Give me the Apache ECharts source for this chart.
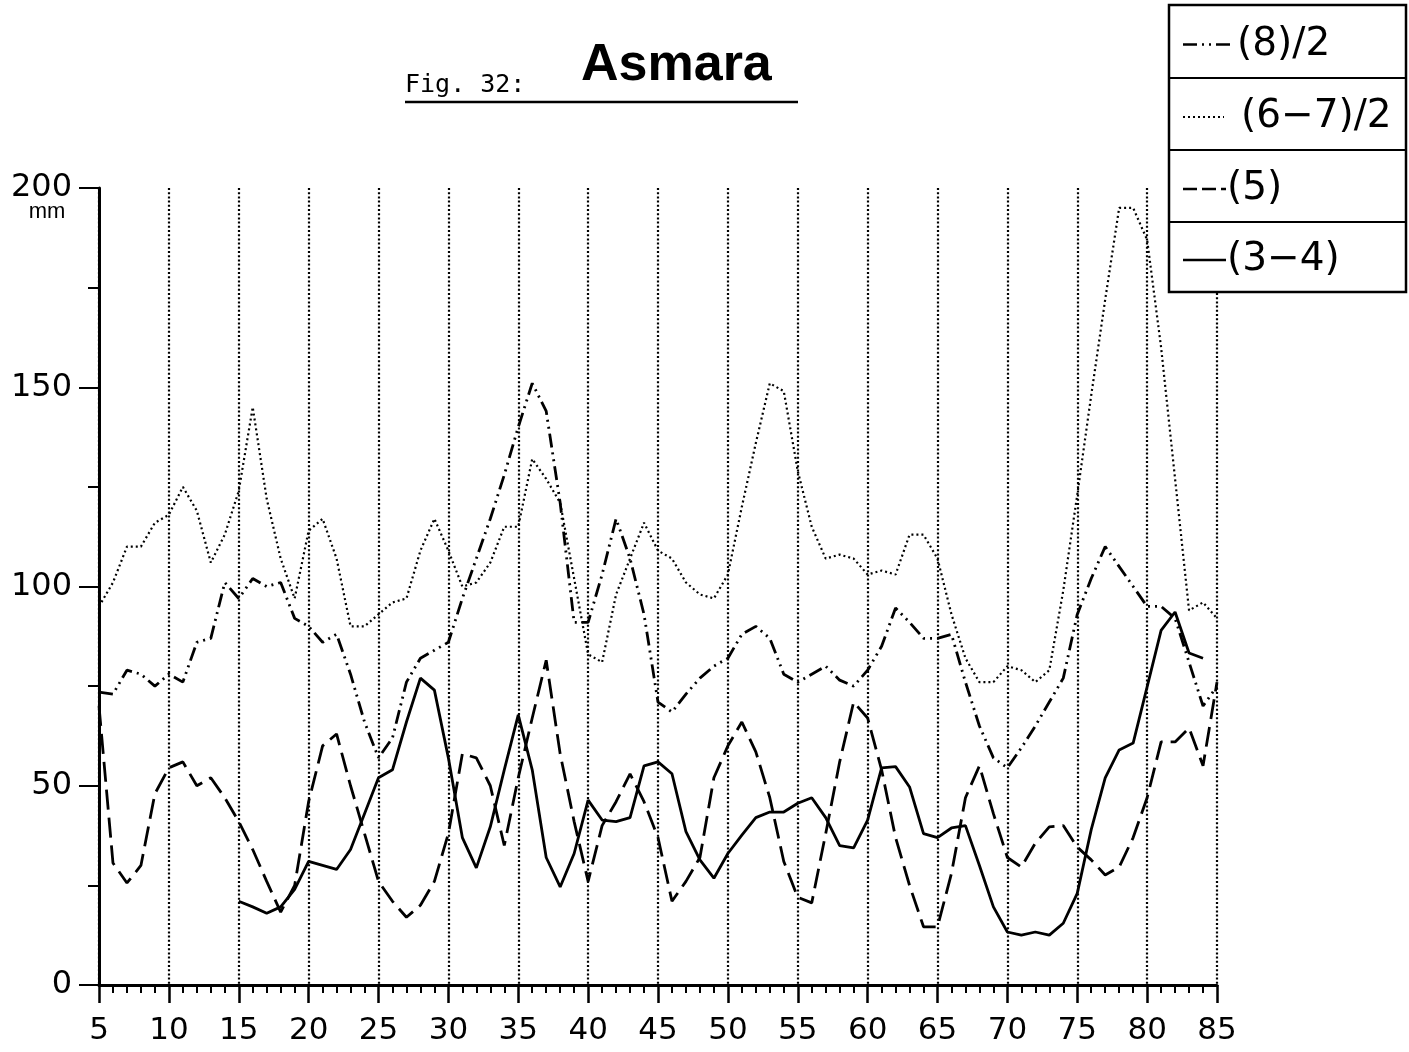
<!DOCTYPE html>
<html>
<head>
<meta charset="utf-8">
<title>Fig. 32: Asmara</title>
<script src="https://cdn.jsdelivr.net/npm/echarts@6/dist/echarts.min.js"></script>
<style>
  html, body { margin: 0; padding: 0; background: #fff; }
  #chart { width: 1409px; height: 1052px; }
</style>
</head>
<body>
<div id="chart"></div>
<script>
// Years 1905–1985 (shown as 5 … 85)
const years = [];
for (let y = 5; y <= 85; y++) years.push(y);

// (8)/2 — dash-dot-dot
const s8half = [
  73.5, 73, 79, 78, 75, 78, 76, 86, 87, 101,
  97, 102, 100, 101, 92, 90, 86, 88, 78, 66,
  57, 62, 76, 82, 84, 86, 97, 107, 117, 128,
  140, 151, 144, 121, 91, 91, 103, 117, 107, 93,
  71, 68.5, 73, 77, 80, 82, 88, 90, 87, 78,
  76, 78, 80, 76.5, 75, 79, 85, 94.6, 91, 87,
  87, 88, 76, 65, 57, 54.5, 59.5, 65, 71, 77,
  93, 102, 110, 105, 100, 95, 95, 92, 81, 70,
  75
];

// (6-7)/2 — dotted
const s67half = [
  95, 101, 110, 110, 116, 118, 125, 119, 106, 113,
  124, 145, 122, 107, 97, 114, 117, 107, 90, 90,
  93, 96, 97, 109, 117, 109, 100, 101, 106, 115,
  115, 132, 127, 121, 102, 83, 81, 98, 107, 116,
  109, 107, 101, 98, 97, 103, 120, 136, 151, 149,
  129, 115, 107, 108, 107, 103, 104, 103, 113, 113,
  107, 93, 82, 76, 76, 80, 79, 76, 79, 99,
  123, 148, 172, 195, 195, 187, 160, 127, 94, 96,
  92
];

// (5) — dashed
const s5 = [
  70, 30.6, 25.6, 30, 48, 54.5, 56, 50, 52, 47,
  41, 34, 26, 18.3, 25, 46, 60, 63, 50, 38,
  26, 21, 17, 20, 26, 38, 58, 57, 50, 35,
  52, 67, 81.5, 58, 41, 26, 40, 46, 53, 46,
  37, 21, 26, 32, 52, 60, 66, 58.5, 47, 31,
  22, 20.6, 38, 56, 71, 67, 54, 37, 25, 14.6,
  14.6, 28, 47, 55, 43, 32, 29.6, 35.6, 39.7, 40,
  34.6, 31.4, 27.6, 29.6, 37, 47, 61, 61, 64.5, 55,
  76
];

// (3-4) — solid, recorded 1915–1984
const s34 = [
  null, null, null, null, null, null, null, null, null, null,
  21, 19.6, 18, 19.6, 24, 31, 30, 29, 34, 43,
  52, 54, 66, 77, 74, 57, 37, 29.4, 39.7, 54,
  67.8, 54, 32, 24.6, 33, 46.4, 41.4, 41, 42, 55,
  56, 53, 38.5, 31.4, 26.8, 33, 37.6, 42, 43.4, 43.4,
  45.6, 47, 42, 35, 34.4, 41.4, 54.5, 54.8, 49.7, 38,
  37, 39.4, 40, 30, 19.6, 13.3, 12.5, 13.3, 12.5, 15.5,
  23, 39, 52, 59, 60.7, 74.8, 89, 93.6, 83.3, 82,
  null
];

const yTicks = [0, 50, 100, 150, 200];
const legendLabels = ['(8)/2', '(6\u22127)/2', '(5)', '(3\u22124)'];

// line dash patterns
const DASH_DOT_DOT = [14, 5, 2, 5, 2, 5];
const DOTTED = [2, 3];
const DASHED = [20, 8];

function pairs(vals) {
  const out = [];
  vals.forEach((v, i) => { if (v !== null) out.push([years[i], v]); });
  return out;
}

const FONT = '"DejaVu Sans", "Liberation Sans", sans-serif';
const TITLE_FONT = '"Liberation Sans", Arial, sans-serif';

const chart = echarts.init(document.getElementById('chart'), null, { renderer: 'canvas' });

// legend box rows
const rowTop = [5, 78, 150, 222, 292];
const legendGraphics = [
  { type: 'rect', shape: { x: 1169, y: rowTop[0], width: 237, height: rowTop[4] - rowTop[0] },
    style: { fill: '#fff', stroke: '#000', lineWidth: 2.5 }, z: 10 }
];
[1, 2, 3].forEach(i => legendGraphics.push({
  type: 'line', shape: { x1: 1169, y1: rowTop[i], x2: 1406, y2: rowTop[i] },
  style: { stroke: '#000', lineWidth: 2 }, z: 11
}));
const samples = [
  { dash: DASH_DOT_DOT, w: 2.5, x1: 1183, x2: 1230, text: legendLabels[0], tx: 1237 },
  { dash: DOTTED, w: 2, x1: 1183, x2: 1224, text: legendLabels[1], tx: 1241 },
  { dash: [14, 5], w: 2.5, x1: 1183, x2: 1226, text: legendLabels[2], tx: 1227 },
  { dash: null, w: 2.5, x1: 1183, x2: 1226, text: legendLabels[3], tx: 1227 }
];
samples.forEach((s, i) => {
  const cy = (rowTop[i] + rowTop[i + 1]) / 2 + 3;
  legendGraphics.push({
    type: 'line', shape: { x1: s.x1, y1: cy, x2: s.x2, y2: cy },
    style: { stroke: '#000', lineWidth: s.w, lineDash: s.dash }, z: 11
  });
  legendGraphics.push({
    type: 'text', x: s.tx, y: cy,
    style: { text: s.text, font: '39px ' + FONT, fill: '#000', textVerticalAlign: 'middle', verticalAlign: 'middle' },
    z: 11
  });
});

const option = {
  animation: false,
  backgroundColor: '#fff',
  grid: { left: 99, right: 192, top: 188, bottom: 67, containLabel: false },
  xAxis: {
    type: 'value',
    min: 5, max: 85, interval: 5,
    axisLine: { show: true, onZero: false, lineStyle: { color: '#000', width: 3 } },
    axisTick: { show: true, length: 18, lineStyle: { color: '#000', width: 2.5 } },
    minorTick: { show: true, splitNumber: 5, length: 8, lineStyle: { color: '#000', width: 2 } },
    axisLabel: { color: '#000', fontFamily: FONT, fontSize: 31, margin: 30 },
    splitLine: { show: true, lineStyle: { color: '#000', width: 2.2, type: [2, 2.2] } },
    minorSplitLine: { show: false }
  },
  yAxis: {
    type: 'value',
    min: 0, max: 200, interval: 50,
    axisLine: { show: true, onZero: false, lineStyle: { color: '#000', width: 3 } },
    axisTick: { show: true, length: 20, lineStyle: { color: '#000', width: 2 } },
    minorTick: { show: true, splitNumber: 2, length: 11, lineStyle: { color: '#000', width: 2 } },
    axisLabel: {
      color: '#000', fontFamily: FONT, fontSize: 32, margin: 27,
      formatter: v => (yTicks.indexOf(v) >= 0 ? String(v) : '')
    },
    splitLine: { show: false }
  },
  series: [
    {
      name: legendLabels[1], type: 'line', data: pairs(s67half), symbol: 'none',
      lineStyle: { color: '#000', width: 2.2, type: DOTTED }, z: 3
    },
    {
      name: legendLabels[0], type: 'line', data: pairs(s8half), symbol: 'none',
      lineStyle: { color: '#000', width: 2.8, type: DASH_DOT_DOT }, z: 4
    },
    {
      name: legendLabels[2], type: 'line', data: pairs(s5), symbol: 'none',
      lineStyle: { color: '#000', width: 2.8, type: DASHED }, z: 5
    },
    {
      name: legendLabels[3], type: 'line', data: pairs(s34), symbol: 'none',
      lineStyle: { color: '#000', width: 2.8, type: 'solid' }, z: 6
    }
  ],
  graphic: [
    { type: 'text', x: 405, y: 98,
      style: { text: 'Fig. 32:', font: '25px "DejaVu Sans Mono", "Liberation Mono", monospace', fill: '#000',
               textVerticalAlign: 'bottom', verticalAlign: 'bottom' } },
    { type: 'text', x: 581, y: 92,
      style: { text: 'Asmara', font: 'bold 52px ' + TITLE_FONT, fill: '#000',
               textVerticalAlign: 'bottom', verticalAlign: 'bottom' } },
    { type: 'line', shape: { x1: 405, y1: 102, x2: 798, y2: 102 },
      style: { stroke: '#000', lineWidth: 2.5 } },
    { type: 'text', x: 47, y: 212,
      style: { text: 'mm', font: '22px ' + TITLE_FONT, fill: '#000',
               textAlign: 'center', align: 'center', textVerticalAlign: 'middle', verticalAlign: 'middle' } },
    ...legendGraphics
  ]
};

chart.setOption(option);
</script>
</body>
</html>
